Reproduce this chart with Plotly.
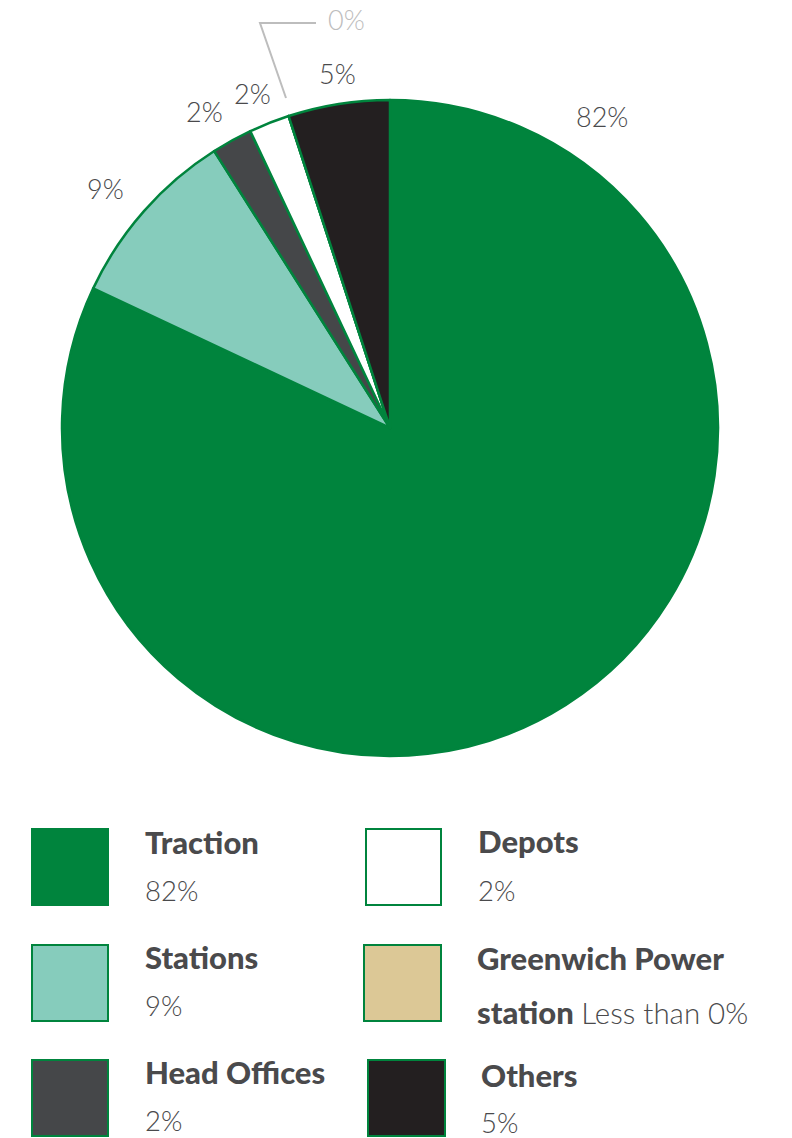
import plotly.graph_objects as go

# Energy use by category (share of total, %)
categories = ["Traction", "Stations", "Head Offices", "Depots", "Greenwich Power station", "Others"]
shares = [82, 9, 2, 2, 0, 5]
colors = ["#00843D", "#86CCBC", "#454749", "#FFFFFF", "#DCC896", "#231F20"]

GREEN = "#00843D"
TEXT = "#4A4A4C"
MUTED = "#BDBDBD"
FONT = "Lato"

W, H = 792, 1138


def px(x, y):
    """Pixel position -> paper coordinates."""
    return x / W, 1 - y / H


# pie geometry (pixels)
cx, cy, r = 390, 428, 328

fig = go.Figure()
fig.add_trace(go.Pie(
    labels=categories,
    values=shares,
    sort=False,
    direction="clockwise",
    rotation=0,
    marker=dict(colors=colors, line=dict(color=GREEN, width=2.5)),
    textinfo="none",
    hoverinfo="label+percent",
    showlegend=False,
    domain=dict(x=[(cx - r) / W, (cx + r) / W], y=[1 - (cy + r) / H, 1 - (cy - r) / H]),
))

annotations = []
shapes = []

# percentage labels around the pie
label_pos = {
    "Traction": (602, 117),
    "Stations": (105, 189),
    "Head Offices": (204, 111),
    "Depots": (252, 94),
    "Greenwich Power station": (346, 20),
    "Others": (337, 73),
}
for cat, val in zip(categories, shares):
    x, y = px(*label_pos[cat])
    annotations.append(dict(
        x=x, y=y, xref="paper", yref="paper", text=f"{val}%", showarrow=False,
        font=dict(family=FONT, size=27, color=MUTED if val == 0 else TEXT, weight=300),
        xanchor="center", yanchor="middle",
    ))

# leader line for the zero slice
p1, p2, p3 = px(286, 98), px(260, 23), px(316, 23)
shapes.append(dict(
    type="path", xref="paper", yref="paper",
    path=f"M {p1[0]},{p1[1]} L {p2[0]},{p2[1]} L {p3[0]},{p3[1]}",
    line=dict(color=MUTED, width=2),
))

TITLE_SIZE = 31
VALUE_SIZE = 27.5

# custom legend: swatch, bold name, value beneath
legend_items = [
    # (category index, swatch box, text x, title y, value y)
    (0, (32, 829, 108, 905), 143, 842, 890),
    (1, (32, 945, 108, 1021), 143, 957, 1006),
    (2, (32, 1060, 108, 1136), 143, 1072, 1120),
    (3, (366, 829, 441, 905), 476, 841, 890),
    (4, (364, 945, 441, 1021), 475, 958, 1012),
    (5, (368, 1060, 445, 1136), 479, 1075, 1122),
]
for idx, (x0, y0, x1, y1), tx, ty, vy in legend_items:
    a, b = px(x0, y0)
    c, d = px(x1, y1)
    shapes.append(dict(
        type="rect", xref="paper", yref="paper", x0=a, y0=d, x1=c, y1=b,
        fillcolor=colors[idx], line=dict(color=GREEN, width=2),
    ))
    name = categories[idx]
    value_text = f"{shares[idx]}%"
    if shares[idx] == 0:
        line1 = "Greenwich Power"
        line2 = (f"<span style='font-weight:900;font-size:{TITLE_SIZE}px'>station</span>"
                 f" <span style='font-size:29.5px'>Less than {value_text}</span>")
    else:
        line1 = name
        line2 = value_text
    x, y = px(tx, ty)
    annotations.append(dict(
        x=x, y=y, xref="paper", yref="paper", text=line1, showarrow=False,
        font=dict(family=FONT, size=TITLE_SIZE, color=TEXT, weight=900),
        xanchor="left", yanchor="middle",
    ))
    x, y = px(tx, vy)
    annotations.append(dict(
        x=x, y=y, xref="paper", yref="paper", text=line2, showarrow=False,
        font=dict(family=FONT, size=VALUE_SIZE, color=TEXT, weight=300),
        xanchor="left", yanchor="middle",
    ))

fig.update_layout(
    width=W, height=H,
    margin=dict(l=0, r=0, t=0, b=0),
    paper_bgcolor="white", plot_bgcolor="white",
    annotations=annotations, shapes=shapes,
)

fig.write_html("out.html")
